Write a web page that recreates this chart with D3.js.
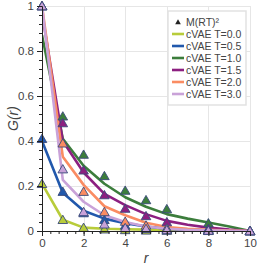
<!DOCTYPE html>
<html>
<head>
<meta charset="utf-8">
<script src="https://cdn.jsdelivr.net/npm/d3@7"></script>
<style>
  body { margin: 0; background: #fff; }
  svg { display: block; font-family: "Liberation Sans", Arial, sans-serif; }
</style>
</head>
<body>
<div id="chart"></div>
<script>
// r values for cVAE curves and for the M(RT)^2 markers
const lineR = [0, 1, 2, 3, 4, 5, 6, 7, 8, 9, 10];
const markR = [0, 1, 2, 3, 4, 5, 6, 8, 10];

const labels = ["cVAE T=0.0", "cVAE T=0.5", "cVAE T=1.0", "cVAE T=1.5", "cVAE T=2.0", "cVAE T=3.0"];
const colors = ["#b8cc3a", "#2158ac", "#3c7d3c", "#8c1f80", "#fa8c62", "#c9a2d8"];

// cVAE G(r) curves
const cvae00 = [0.21, 0.05, 0.015, 0.01, 0.008, 0.006, 0.004, 0.003, 0.002, 0.001, 0];
const cvae05 = [0.40, 0.17, 0.09, 0.055, 0.035, 0.02, 0.01, 0.005, 0.003, 0.001, 0];
const cvae10 = [0.87, 0.41, 0.29, 0.21, 0.15, 0.108, 0.075, 0.055, 0.038, 0.02, 0];
const cvae15 = [0.97, 0.40, 0.26, 0.165, 0.115, 0.075, 0.045, 0.028, 0.015, 0.006, 0];
const cvae20 = [1.0, 0.33, 0.205, 0.11, 0.07, 0.037, 0.018, 0.01, 0.005, 0.002, 0];
const cvae30 = [1.0, 0.227, 0.13, 0.07, 0.04, 0.02, 0.01, 0.005, 0.003, 0.001, 0];

// M(RT)^2 reference points
const mrt00 = [0.21, 0.05, 0.015, 0.008, 0.005, 0.003, 0.002, 0.001, 0];
const mrt05 = [0.41, 0.175, 0.08, 0.05, 0.025, 0.015, 0.01, 0.005, 0];
const mrt10 = [1.0, 0.51, 0.34, 0.245, 0.18, 0.138, 0.098, 0.035, 0.002];
const mrt15 = [1.0, 0.48, 0.27, 0.16, 0.10, 0.067, 0.04, 0.01, 0];
const mrt20 = [1.0, 0.39, 0.175, 0.085, 0.042, 0.025, 0.012, 0.003, 0];
const mrt30 = [1.0, 0.275, 0.085, 0.03, 0.014, 0.01, 0.005, 0.002, 0];

const xTicks = [0, 2, 4, 6, 8, 10];
const yTicks = [0, 0.2, 0.4, 0.6, 0.8, 1];

const curves = [cvae00, cvae05, cvae10, cvae15, cvae20, cvae30];
const marks = [mrt00, mrt05, mrt10, mrt15, mrt20, mrt30];

const width = 266, height = 269;
const margin = { left: 42, right: 16, top: 6, bottom: 38 };

const svg = d3.select("#chart").append("svg")
  .attr("width", width)
  .attr("height", height);

const x = d3.scaleLinear().domain([0, 10]).range([margin.left, width - margin.right]);
const y = d3.scaleLinear().domain([0, 1]).range([height - margin.bottom, margin.top]);

// grid
const grid = svg.append("g").attr("stroke", "#e6e6e6").attr("stroke-width", 1);
grid.selectAll(".gx").data(xTicks).enter().append("line")
  .attr("x1", d => Math.round(x(d)) + 0.5).attr("x2", d => Math.round(x(d)) + 0.5)
  .attr("y1", y(0)).attr("y2", y(1));
grid.selectAll(".gy").data(yTicks).enter().append("line")
  .attr("y1", d => Math.round(y(d)) + 0.5).attr("y2", d => Math.round(y(d)) + 0.5)
  .attr("x1", x(0)).attr("x2", x(10));

// clip so lines stay inside
svg.append("clipPath").attr("id", "clip").append("rect")
  .attr("x", x(0)).attr("y", y(1) - 6).attr("width", x(10) - x(0) + 6).attr("height", y(0) - y(1) + 6);

const line = d3.line().x((d, i) => x(lineR[i])).y(d => y(d));

svg.append("g").attr("clip-path", "url(#clip)")
  .selectAll("path").data(curves).enter().append("path")
  .attr("d", d => line(d))
  .attr("fill", "none")
  .attr("stroke", (d, i) => colors[i])
  .attr("stroke-width", 2.6)
  .attr("stroke-linejoin", "round");

// triangles
const tri = d3.symbol().type(d3.symbolTriangle).size(40);
marks.forEach((m, k) => {
  svg.append("g").selectAll("path").data(m).enter().append("path")
    .attr("d", tri)
    .attr("transform", (d, i) => `translate(${x(markR[i])},${y(d) + 1})`)
    .attr("fill", colors[k])
    .attr("stroke", "#3a4a7a")
    .attr("stroke-width", 0.9);
});

// axes
const yAxis = svg.append("g")
  .attr("transform", `translate(${x(0)},0)`)
  .call(d3.axisLeft(y).tickValues(yTicks).tickFormat(d => d === 0 ? "0" : d === 1 ? "1" : d3.format(".1f")(d)).tickSize(5).tickPadding(3));
svg.append("g")
  .attr("transform", `translate(${x(0)},0)`)
  .call(d3.axisLeft(y).tickValues(d3.range(0, 1.001, 0.04)).tickFormat("").tickSize(3))
  .select(".domain").remove();

const xAxis = svg.append("g")
  .attr("transform", `translate(0,${y(0)})`)
  .call(d3.axisBottom(x).tickValues(xTicks).tickSize(5).tickPadding(3));
svg.append("g")
  .attr("transform", `translate(0,${y(0)})`)
  .call(d3.axisBottom(x).tickValues(d3.range(0, 10.001, 0.4)).tickFormat("").tickSize(3))
  .select(".domain").remove();

svg.selectAll(".tick text").attr("font-size", "11.5px").attr("fill", "#444").attr("font-family", "Liberation Sans, Arial, sans-serif");
svg.selectAll(".domain").attr("stroke", "#222");
svg.selectAll(".tick line").attr("stroke", "#222");

// axis labels
svg.append("text")
  .attr("x", (x(0) + x(10)) / 2).attr("y", 263)
  .attr("text-anchor", "middle")
  .attr("font-size", "14px").attr("font-style", "italic").attr("fill", "#444")
  .text("r");
svg.append("text")
  .attr("transform", `translate(18,${(y(0) + y(1)) / 2}) rotate(-90)`)
  .attr("text-anchor", "middle")
  .attr("font-size", "14px").attr("font-style", "italic").attr("fill", "#444")
  .text("G(r)");

// legend
const lg = svg.append("g").attr("transform", "translate(168,11)");
lg.append("rect").attr("width", 78).attr("height", 94)
  .attr("fill", "#fff").attr("fill-opacity", 0.95)
  .attr("stroke", "#e2e2e2").attr("stroke-width", 1.5);
lg.append("path").attr("d", d3.symbol().type(d3.symbolTriangle).size(14))
  .attr("transform", "translate(10,11.5)").attr("fill", "#222");
lg.append("text").attr("x", 18).attr("y", 15).attr("font-size", "10.5px").attr("fill", "#444")
  .text("M(RT)²");
labels.forEach((t, i) => {
  const yy = 23 + i * 12;
  lg.append("line").attr("x1", 4).attr("x2", 16).attr("y1", yy).attr("y2", yy)
    .attr("stroke", colors[i]).attr("stroke-width", 2.6);
  lg.append("text").attr("x", 18).attr("y", yy + 4).attr("font-size", "10.5px").attr("fill", "#444")
    .text(t);
});
</script>
</body>
</html>
